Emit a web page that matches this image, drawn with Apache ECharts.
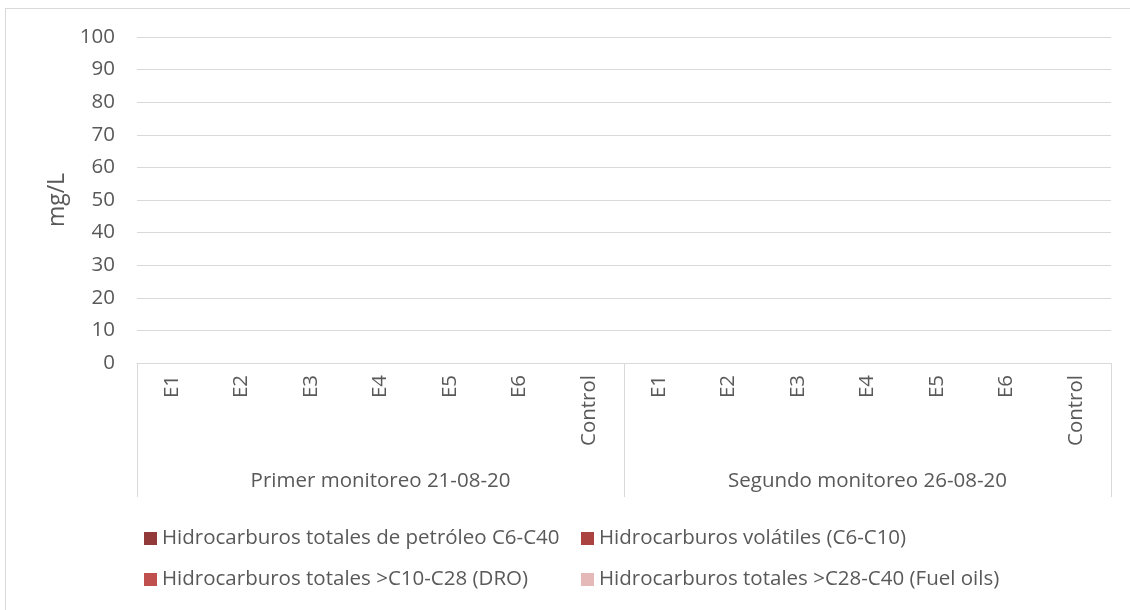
<!DOCTYPE html>
<html>
<head>
<meta charset="utf-8">
<script src="https://cdn.jsdelivr.net/npm/echarts@6/dist/echarts.min.js"></script>
<style>
  html, body { margin: 0; padding: 0; background: #fff; overflow: hidden; }
  #chart { width: 1130px; height: 610px; }
  #frame { position: absolute; left: 5px; top: 8px; width: 1200px; height: 700px; border: 1px solid #d9d9d9; pointer-events: none; }
</style>
</head>
<body>
<div id="chart"></div>
<div id="frame"></div>
<script>
// sitios de muestreo por monitoreo
var sitios = ['E1', 'E2', 'E3', 'E4', 'E5', 'E6', 'Control',
              'E1', 'E2', 'E3', 'E4', 'E5', 'E6', 'Control']
var monitoreos = ['Primer monitoreo 21-08-20', 'Segundo monitoreo 26-08-20']
var nombres = [
  'Hidrocarburos totales de petróleo C6-C40',
  'Hidrocarburos volátiles (C6-C10)',
  'Hidrocarburos totales >C10-C28 (DRO)',
  'Hidrocarburos totales >C28-C40 (Fuel oils)'
]
// valores en mg/L (no detectados -> 0)
var htp = [0, 0, 0, 0, 0, 0, 0, 0, 0, 0, 0, 0, 0, 0]
var volatiles = [0, 0, 0, 0, 0, 0, 0, 0, 0, 0, 0, 0, 0, 0]
var dro = [0, 0, 0, 0, 0, 0, 0, 0, 0, 0, 0, 0, 0, 0]
var fuelOils = [0, 0, 0, 0, 0, 0, 0, 0, 0, 0, 0, 0, 0, 0]
var colores = ['#923a39', '#ab4441', '#c0504d', '#e5b9b8']

var fuente = 'Open Sans'
var gris = '#595959'
var linea = '#d9d9d9'

var chart = echarts.init(document.getElementById('chart'))
var valores = [htp, volatiles, dro, fuelOils]
var series = []
for (var i = 0; i < nombres.length; i++) {
  series.push({
    type: 'bar',
    name: nombres[i],
    data: valores[i],
    xAxisIndex: 0,
    itemStyle: { color: colores[i] }
  })
}

var option = {
  animation: false,
  color: colores,
  textStyle: { fontFamily: fuente },
  grid: { left: 137, right: 19, top: 37, bottom: 247 },
  legend: [{
    left: 139, top: 523,
    orient: 'vertical',
    itemWidth: 13, itemHeight: 13, itemGap: 20,
    icon: 'rect',
    data: [nombres[0], nombres[2]],
    textStyle: { color: gris, fontSize: 20.5, fontFamily: fuente }
  }, {
    left: 576, top: 523,
    orient: 'vertical',
    itemWidth: 13, itemHeight: 13, itemGap: 20,
    icon: 'rect',
    data: [nombres[1], nombres[3]],
    textStyle: { color: gris, fontSize: 20.5, fontFamily: fuente }
  }],
  xAxis: [{
    type: 'category',
    data: sitios,
    axisLine: { lineStyle: { color: linea } },
    axisTick: { show: false },
    axisLabel: { rotate: 90, interval: 0, color: gris, fontSize: 20.5, margin: 12, fontFamily: fuente }
  }, {
    type: 'category',
    data: monitoreos,
    position: 'bottom',
    axisLine: { show: false },
    axisTick: { show: true, length: 134, lineStyle: { color: linea } },
    axisLabel: { interval: 0, color: gris, fontSize: 20.5, margin: 108, fontFamily: fuente },
    splitLine: { show: false }
  }],
  yAxis: {
    type: 'value',
    min: 0, max: 100, interval: 10,
    name: 'mg/L',
    nameLocation: 'middle',
    nameGap: 68,
    nameTextStyle: { color: gris, fontSize: 23, fontFamily: fuente },
    axisLine: { show: false },
    axisTick: { show: false },
    axisLabel: { color: gris, fontSize: 20.5, margin: 22, fontFamily: fuente },
    splitLine: { lineStyle: { color: linea } }
  },
  series: series
}
chart.setOption(option)
</script>
</body>
</html>
